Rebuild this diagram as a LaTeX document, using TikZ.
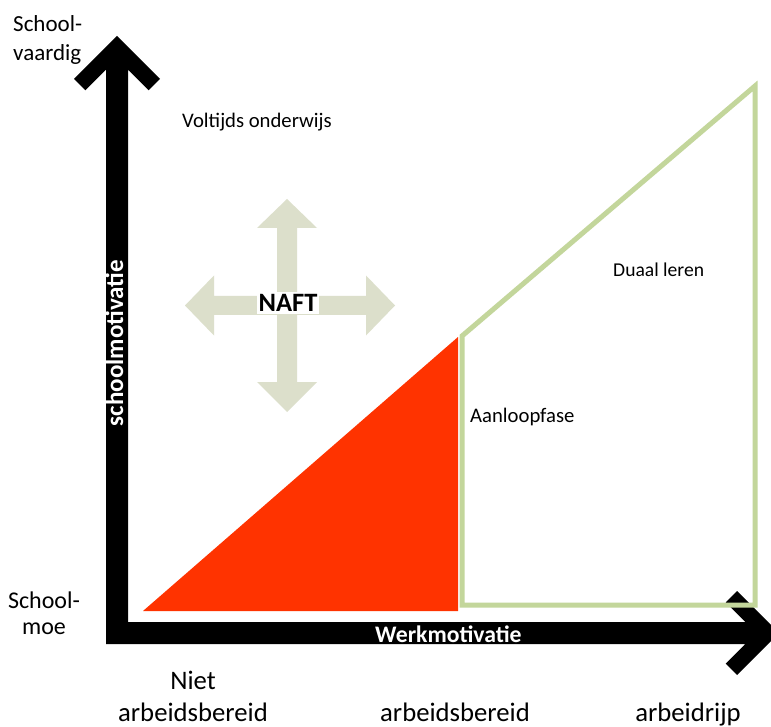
\documentclass[tikz,border=0pt]{standalone}
\usepackage{fontspec}
\setmainfont{Carlito}
\definecolor{redfill}{HTML}{FF3300}
\definecolor{greenline}{HTML}{C3D69B}
\definecolor{crossfill}{HTML}{DCDFCB}
\newcommand{\fsz}[2]{\fontsize{#1}{#2}\selectfont}
\begin{document}
\begin{tikzpicture}[x=1pt,y=-1pt,
  lbl/.style={inner sep=0pt, text=black},
  axisfill/.style={fill=black},
  crossarrow/.style={fill=crossfill},
  zone/.style={draw=greenline, line width=5pt, line join=miter},
  axislbl/.style={inner sep=0pt, text=white, font=\bfseries\fsz{23.7}{28}}]
\useasboundingbox (0,0) rectangle (771,727);
\clip (0,0) rectangle (771,727);
\fill[white] (0,0) rectangle (771,727);
% axes
\fill[axisfill] (117,36) -- (160,79) -- (148.7,90.3) -- (128,69.6) -- (128,622)
  -- (745.4,622) -- (725.7,602.3) -- (737,591) -- (779,633) -- (737,675)
  -- (725.7,663.7) -- (745.4,644) -- (106,644) -- (106,69.6) -- (85.3,90.3)
  -- (74,79) -- cycle;
% red triangle
\fill[redfill] (143,611) -- (458,337) -- (458,611) -- cycle;
% green zone
\draw[zone] (462,336) -- (755,86) -- (755,605) -- (462,605) -- cycle;
% NAFT cross
\fill[crossarrow] (287,199) -- (317,228) -- (297,228) -- (297,382) -- (317,382)
  -- (287,412) -- (257,382) -- (277,382) -- (277,228) -- (257,228) -- cycle;
\fill[crossarrow] (185,305.5) -- (214,275.5) -- (214,296) -- (366,296) -- (366,275.5)
  -- (395,305.5) -- (366,335.5) -- (366,315) -- (214,315) -- (214,335.5) -- cycle;
\node[lbl, fill=white, inner xsep=2pt, inner ysep=2.5pt, anchor=base, font=\bfseries\fsz{26.5}{30}] (naft) at (288,312) {NAFT};
% labels
\node[lbl, anchor=base west, align=left, font=\fsz{23}{29}] (schoolvaardig) at (13,61) {School-\\vaardig};
\node[lbl, anchor=base, align=center, font=\fsz{24}{25.5}] (schoolmoe) at (44,634) {School-\\moe};
\node[lbl, anchor=base west, font=\fsz{20.7}{25}] (voltijds) at (182,128) {Voltijds onderwijs};
\node[lbl, anchor=base west, font=\fsz{19.6}{24}] (duaal) at (613,277) {Duaal leren};
\node[lbl, anchor=base west, font=\fsz{20.7}{25}] (aanloop) at (470,422) {Aanloopfase};
\node[axislbl, anchor=base west] (werk) at (375,642) {Werkmotivatie};
\node[axislbl, anchor=base, rotate=90, font=\bfseries\fsz{25}{30}] (schoolmot) at (123,343) {schoolmotivatie};
\node[lbl, anchor=base, align=center, font=\fsz{26.7}{32}] (niet) at (193,721) {Niet\\arbeidsbereid};
\node[lbl, anchor=base, font=\fsz{26.7}{32}] (bereid) at (455,721) {arbeidsbereid};
\node[lbl, anchor=base, font=\fsz{26.7}{32}] (rijp) at (688,721) {arbeidrijp};
\end{tikzpicture}
\end{document}
